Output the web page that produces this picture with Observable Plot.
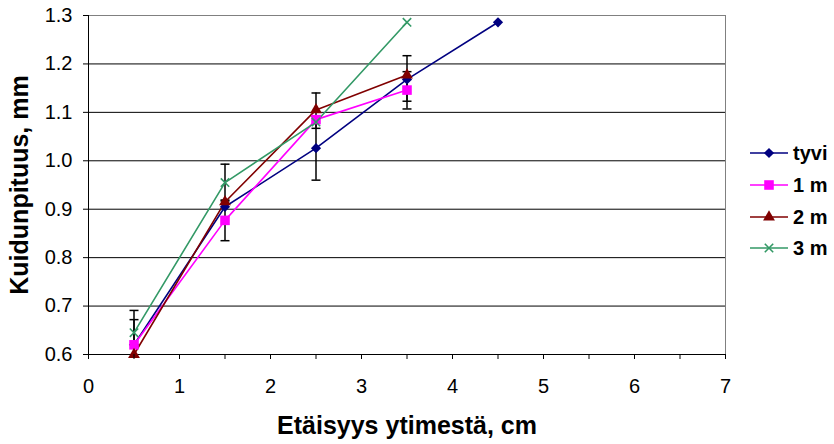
<!DOCTYPE html>
<html>
<head>
<meta charset="utf-8">
<script src="https://cdn.jsdelivr.net/npm/d3@7"></script>
<script src="https://cdn.jsdelivr.net/npm/@observablehq/plot@0.6"></script>
<style>
  html, body { margin: 0; padding: 0; background: #fff; }
  #wrap { position: relative; width: 834px; height: 444px; font-family: "Liberation Sans", Arial, sans-serif; }
  #legend { position: absolute; left: 0; top: 0; pointer-events: none; }
</style>
</head>
<body>
<div id="wrap"></div>
<script>
// ---- data ----
const seriesNames = ["tyvi", "1 m", "2 m", "3 m"];
const xPos = [0.5, 1.5, 2.5, 3.5, 4.5];
const tyvi = [0.62, 0.905, 1.026, 1.168, 1.286];
const m1 = [0.62, 0.877, 1.085, 1.146];
const m2 = [0.60, 0.915, 1.105, 1.177];
const m3 = [0.645, 0.955, 1.08, 1.286];
// error bars (x, low, high)
const errX = [0.5, 0.5, 1.5, 1.5, 2.5, 2.5, 3.5, 3.5];
const errLow = [0.568, 0.599, 0.835, 0.917, 0.96, 1.067, 1.107, 1.123];
const errHigh = [0.672, 0.691, 0.919, 0.993, 1.092, 1.14, 1.184, 1.217];
// ticks
const xTicks = [0, 0.5, 1, 1.5, 2, 2.5, 3, 3.5, 4, 4.5, 5, 5.5, 6, 6.5, 7];
const yTicks = [0.6, 0.7, 0.8, 0.9, 1.0, 1.1, 1.2, 1.3];
const xTitle = "Etäisyys ytimestä, cm";
const yTitle = "Kuidunpituus, mm";

// ---- styles ----
const colors = ["#000080", "#FF00FF", "#800000", "#339966"];
const symbols = ["diamond2", "square", "triangle", "times"];
const radii = [4.6, 5.4, 4.4, 3.9];

const values = [tyvi, m1, m2, m3];
const rows = [];
values.forEach((arr, si) => arr.forEach((v, i) => rows.push({series: seriesNames[si], si, x: xPos[i], y: v})));
const errs = errX.map((x, i) => ({x, lo: errLow[i], hi: errHigh[i]}));

const capSymbol = {
  draw(context, size) {
    const r = Math.sqrt(size / Math.PI);
    context.moveTo(-r, 0);
    context.lineTo(r, 0);
  }
};

const marks = [
  Plot.gridY(yTicks, {stroke: "#000", strokeOpacity: 1, strokeWidth: 1}),
  Plot.frame({stroke: "#808080"}),
  Plot.ruleX([0], {stroke: "#000"}),
  Plot.ruleY([0.6], {stroke: "#000"}),
  Plot.ruleX(errs, {x: "x", y1: "lo", y2: "hi", stroke: "#000", strokeWidth: 1.5, clip: true}),
  Plot.dot(errs, {x: "x", y: "lo", symbol: capSymbol, r: 4.5, stroke: "#000", strokeWidth: 1.5, clip: true}),
  Plot.dot(errs, {x: "x", y: "hi", symbol: capSymbol, r: 4.5, stroke: "#000", strokeWidth: 1.5, clip: true})
];
seriesNames.forEach((name, si) => {
  const d = rows.filter(r => r.si === si);
  marks.push(Plot.line(d, {x: "x", y: "y", stroke: colors[si], strokeWidth: 1.6}));
});
seriesNames.forEach((name, si) => {
  const d = rows.filter(r => r.si === si);
  const isStroke = symbols[si] === "times";
  marks.push(Plot.dot(d, {
    x: "x", y: "y", symbol: symbols[si], r: radii[si],
    fill: isStroke ? "none" : colors[si],
    stroke: colors[si], strokeWidth: isStroke ? 1.6 : 0
  }));
});
marks.push(
  Plot.axisX(xTicks, {tickSize: 5, tickPadding: 19, tickFormat: d => Number.isInteger(d) ? String(d) : "", fontSize: 20, label: null, stroke: "#000"}),
  Plot.axisY(yTicks, {tickSize: 5, tickPadding: 11, tickFormat: d => d.toFixed(1), fontSize: 20, label: null, stroke: "#000"}),
  Plot.text([xTitle], {frameAnchor: "bottom", lineAnchor: "middle", textAnchor: "middle", dy: 71, fontSize: 25, fontWeight: "bold", fill: "#000"}),
  Plot.text([yTitle], {frameAnchor: "left", lineAnchor: "middle", textAnchor: "middle", dx: -69, rotate: -90, fontSize: 25, fontWeight: "bold", fill: "#000"})
);

const chart = Plot.plot({
  width: 834,
  height: 444,
  marginLeft: 88,
  marginRight: 109,
  marginTop: 15,
  marginBottom: 90,
  x: {domain: [0, 7]},
  y: {domain: [0.6, 1.3]},
  style: {fontFamily: "'Liberation Sans', Arial, sans-serif", color: "#000", background: "#fff"},
  marks
});
const wrap = document.getElementById("wrap");
wrap.appendChild(chart);

// legend
const legendY = [153, 185, 217, 248];
const lg = d3.select(wrap).append("svg").attr("id", "legend").attr("width", 834).attr("height", 444);
seriesNames.forEach((name, si) => {
  const g = lg.append("g").attr("transform", `translate(0,${legendY[si]})`);
  g.append("line").attr("x1", 750).attr("x2", 788).attr("y1", 0).attr("y2", 0)
    .attr("stroke", colors[si]).attr("stroke-width", 1.6);
  const sym = symbols[si] === "diamond2" ? d3.symbolDiamond2 : symbols[si] === "square" ? d3.symbolSquare
    : symbols[si] === "triangle" ? d3.symbolTriangle : d3.symbolTimes;
  const isStroke = symbols[si] === "times";
  g.append("path").attr("transform", "translate(769,0)")
    .attr("d", d3.symbol(sym, Math.PI * radii[si] * radii[si])())
    .attr("fill", isStroke ? "none" : colors[si])
    .attr("stroke", isStroke ? colors[si] : "none").attr("stroke-width", 1.6);
  g.append("text").attr("x", 793).attr("y", 0).attr("dy", "0.36em")
    .attr("font-size", 20).attr("font-weight", "bold").attr("font-family", "'Liberation Sans', Arial, sans-serif")
    .text(name);
});
</script>
</body>
</html>
